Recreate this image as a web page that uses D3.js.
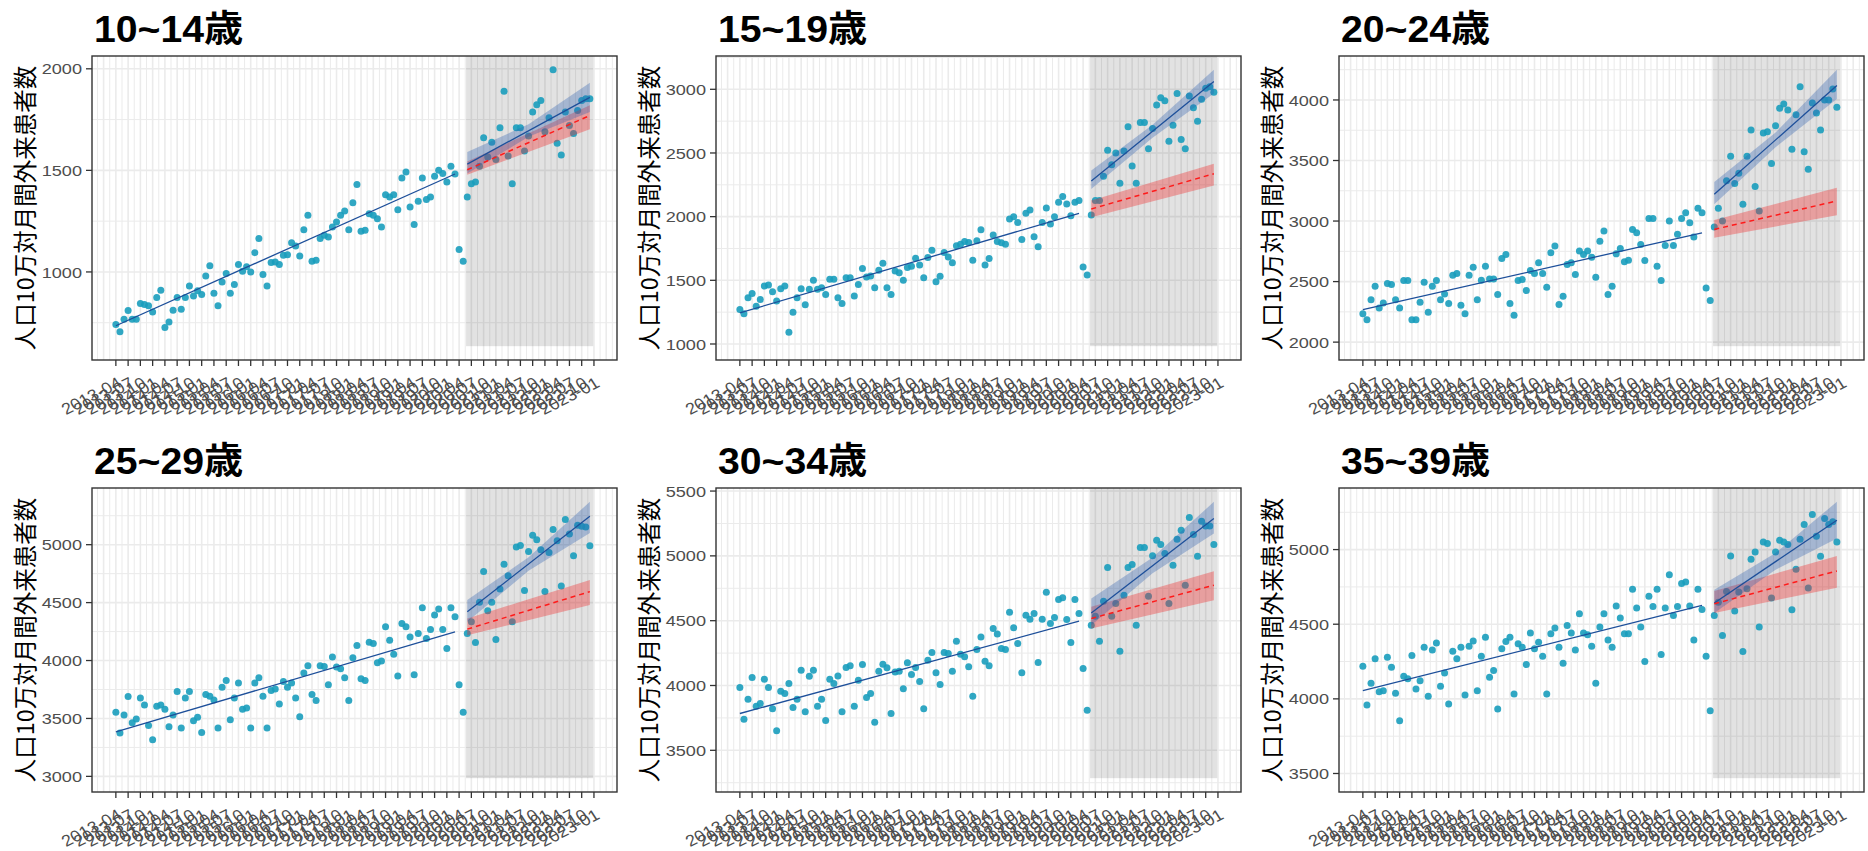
<!DOCTYPE html>
<html>
<head>
<meta charset="utf-8">
<script src="https://cdn.jsdelivr.net/npm/d3@7"></script>
<style>
  body { margin: 0; background: #fff; }
  svg { display: block; }
</style>
</head>
<body>
<svg id="chart" width="1868" height="851"></svg>
<script>
// panel titles
var ageGroups = ["10~14歳", "15~19歳", "20~24歳", "25~29歳", "30~34歳", "35~39歳"];
var yTitle = "人口10万対月間外来患者数";

// monthly series start at 2013-04, one value per month up to 2022-12
var firstMonth = new Date(2013, 3, 1);

var rate10to14 = [741,705,767,810,767,767,845,840,833,803,874,910,726,754,812,874,816,874,931,882,
  907,889,980,1030,895,833,951,992,895,938,1036,1003,1025,1000,1095,1164,987,931,1046,1049,
  1036,1082,1085,1144,1128,1079,1208,1279,1052,1057,1164,1180,1172,1221,1246,1279,1300,1208,1341,1430,
  1200,1205,1287,1279,1262,1221,1380,1369,1380,1306,1462,1492,1320,1234,1348,1462,1356,1369,1471,1500,
  1484,1443,1520,1482,1110,1052,1369,1434,1443,1520,1661,1566,1639,1554,1710,1889,1571,1434,1710,1710,
  1595,1669,1787,1823,1844,1690,1759,1995,1633,1576,1787,1721,1682,1795,1844,1852,1852];

var rate15to19 = [1271,1237,1363,1397,1297,1350,1455,1463,1410,1337,1434,1455,1092,1250,1363,1434,1308,1429,1500,1429,
  1442,1389,1508,1508,1363,1318,1521,1521,1376,1468,1592,1526,1534,1442,1579,1634,1442,1389,1573,1560,
  1500,1600,1610,1673,1621,1521,1679,1737,1489,1531,1718,1684,1637,1771,1784,1805,1797,1658,1810,1897,
  1621,1671,1855,1805,1795,1784,1981,2000,1955,1821,2026,2053,1842,1763,1955,2068,1942,2000,2113,2158,
  2100,2008,2113,2126,1605,1542,2013,2126,2126,2318,2521,2408,2500,2263,2516,2705,2397,2263,2739,2739,
  2534,2692,2876,2934,2911,2592,2718,2968,2605,2534,2947,2855,2750,2921,3008,3021,2976];

var rate20to24 = [2235,2185,2351,2462,2282,2323,2484,2475,2351,2282,2508,2508,2185,2185,2329,2495,2246,2462,2508,2351,
  2398,2318,2553,2567,2304,2235,2553,2619,2351,2511,2627,2522,2522,2393,2691,2724,2318,2221,2508,2517,
  2426,2591,2567,2655,2567,2453,2738,2793,2310,2379,2641,2655,2558,2752,2724,2752,2702,2536,2834,2917,
  2393,2462,2729,2774,2663,2677,2931,2903,2807,2674,3022,3022,2627,2508,2799,3000,2799,2890,3022,3069,
  2986,2868,3105,3069,2448,2343,2950,3105,3000,3332,3536,3310,3395,3138,3536,3751,3285,3083,3727,3738,
  3475,3787,3931,3967,3917,3594,3878,4110,3572,3428,3975,3892,3751,4000,4000,4091,3939];

var rate25to29 = [3553,3374,3530,3689,3463,3495,3677,3617,3440,3316,3605,3617,3579,3429,3530,3732,3417,3677,3732,3481,
  3510,3379,3706,3692,3660,3417,3770,3828,3489,3677,3805,3579,3591,3417,3805,3851,3692,3417,3741,3755,
  3625,3819,3770,3805,3677,3515,3892,3955,3706,3654,3955,3949,3790,4031,3944,3929,3851,3654,4025,4129,
  3842,3828,4158,4146,3981,3996,4291,4175,4054,3866,4320,4291,4204,3877,4233,4456,4190,4268,4392,4444,
  4268,4103,4456,4378,3790,3553,4233,4334,4155,4502,4768,4430,4502,4181,4618,4832,4731,4334,4980,4994,
  4604,4942,5081,5043,4957,4595,4933,5130,5035,4644,5217,5093,4904,5168,5159,5153,4991];

var rate30to34 = [3984,3740,3894,4062,3840,3861,4049,3984,3820,3650,3956,3938,4015,3830,3894,4118,3797,4072,4118,3840,
  3894,3730,4049,4015,4074,3797,4139,4152,3840,4041,4162,3907,3938,3717,4110,4164,4136,3784,4105,4110,
  3974,4175,4085,4139,4031,3820,4195,4254,4098,4008,4254,4247,4110,4342,4242,4221,4144,3918,4278,4375,
  4188,4152,4440,4398,4285,4278,4565,4445,4324,4098,4542,4512,4555,4177,4512,4720,4478,4524,4663,4676,
  4509,4332,4663,4555,4131,3810,4465,4535,4342,4650,4910,4535,4632,4265,4697,4910,4933,4465,5064,5064,
  4689,5000,5121,5087,5018,4632,4928,5129,5198,4774,5296,5165,4997,5267,5231,5231,5087];

var rate35to39 = [4219,3959,4104,4268,4048,4055,4279,4212,4037,3854,4151,4134,4290,4066,4122,4346,4017,4328,4375,4084,
  4174,3966,4319,4268,4346,4026,4353,4387,4055,4286,4413,4145,4190,3932,4335,4384,4413,4033,4369,4346,
  4230,4442,4335,4380,4286,4033,4436,4474,4346,4239,4492,4442,4328,4570,4442,4429,4353,4104,4481,4570,
  4395,4346,4622,4541,4436,4436,4734,4608,4481,4250,4687,4619,4734,4297,4608,4832,4559,4619,4772,4783,
  4622,4395,4734,4599,4286,3921,4559,4648,4425,4720,4957,4588,4716,4317,4738,4935,4984,4481,5051,5040,
  4675,4984,5063,5051,5034,4597,4868,5069,5168,4743,5235,5090,4955,5208,5168,5186,5051];

var rates = [rate10to14, rate15to19, rate20to24, rate25to29, rate30to34, rate35to39];

// pre-period trend (2013-04 .. 2020-03): value at first and last month
var preMonths = [0, 83];
var preTrend = [[735, 1482], [1244, 2026], [2268, 2903], [3385, 4248], [3784, 4496], [4055, 4626]];

// post-period (2020-06 .. 2022-12) fitted trend with band: [fit, low, high]
var postMonths = [86, 101, 116];
var postFit = [
  [[1531, 1484, 1590], [1695, 1665, 1727], [1859, 1787, 1931]],
  [[2279, 2218, 2363], [2670, 2620, 2722], [3061, 2968, 3153]],
  [[3221, 3138, 3323], [3670, 3610, 3732], [4119, 4008, 4249]],
  [[4421, 4334, 4522], [4833, 4775, 4892], [5246, 5101, 5370]],
  [[4560, 4465, 4671], [4924, 4865, 4987], [5288, 5172, 5417]],
  [[4642, 4575, 4731], [4920, 4865, 4977], [5197, 5074, 5320]]
];

// counterfactual (pre trend extended): [fit, low, high] at 2020-06 and 2022-12
var cfMonths = [86, 116];
var counterfactual = [
  [[1503, 1479, 1544], [1770, 1702, 1820]],
  [[2060, 1995, 2126], [2337, 2245, 2416]],
  [[2931, 2862, 3008], [3166, 3047, 3276]],
  [[4271, 4219, 4363], [4595, 4479, 4696]],
  [[4517, 4440, 4607], [4774, 4658, 4882]],
  [[4637, 4575, 4722], [4857, 4745, 4957]]
];

// shaded post period, in months from 2013-04
var shade = [85.7, 116.8];

var yTicks = [
  [1000, 1500, 2000],
  [1000, 1500, 2000, 2500, 3000],
  [2000, 2500, 3000, 3500, 4000],
  [3000, 3500, 4000, 4500, 5000],
  [3500, 4000, 4500, 5000, 5500],
  [3500, 4000, 4500, 5000]
];

// layout
var colLeft = [92, 716, 1339], rowTop = [56, 488];
var panelW = 525, panelH = 304;
var fontLatin = "'Liberation Sans', Arial, 'Noto Sans CJK JP', sans-serif";

var svg = d3.select("#chart");
svg.append("rect").attr("width", 1868).attr("height", 851).attr("fill", "#fff");

var fmtMonth = d3.timeFormat("%Y-%m");
var xTicks = d3.range(0, 118, 3);

ageGroups.forEach(function (title, p) {
  var left = colLeft[p % 3], top = rowTop[Math.floor(p / 3)];
  var vals = rates[p];
  var g = svg.append("g").attr("transform", "translate(" + left + "," + top + ")");

  // x: month index, ggplot style 5% expansion
  var xr = [0, shade[1]];
  var xPad = (xr[1] - xr[0]) * 0.05;
  var x = d3.scaleLinear().domain([xr[0] - xPad, xr[1] + xPad]).range([0, panelW]);

  // y: shade bottom is 0.9 * min, top is the highest point or band
  var shadeLow = 0.9 * d3.min(vals);
  var yHigh = d3.max(vals.concat(postFit[p].map(function (d) { return d[2]; })));
  var yPad = (yHigh - shadeLow) * 0.05;
  var y = d3.scaleLinear().domain([shadeLow - yPad, yHigh + yPad]).range([panelH, 0]);

  // grid
  var yt = yTicks[p], step = yt[1] - yt[0];
  var yMinor = d3.range(yt[0] - step / 2, yt[yt.length - 1] + step, step)
    .filter(function (v) { return v > y.domain()[0] && v < y.domain()[1]; });
  var xMinor = d3.range(-4.5, 123, 3).filter(function (v) { return v > x.domain()[0] && v < x.domain()[1]; });
  var xMajor = d3.range(-3, 123, 3).filter(function (v) { return v > x.domain()[0] && v < x.domain()[1]; });

  g.selectAll(".hmin").data(yMinor).enter().append("line")
    .attr("x1", 0).attr("x2", panelW).attr("y1", y).attr("y2", y)
    .attr("stroke", "#ebebeb").attr("stroke-width", 1);
  g.selectAll(".vmin").data(xMinor).enter().append("line")
    .attr("y1", 0).attr("y2", panelH).attr("x1", x).attr("x2", x)
    .attr("stroke", "#ebebeb").attr("stroke-width", 1);
  g.selectAll(".hmaj").data(yt).enter().append("line")
    .attr("x1", 0).attr("x2", panelW).attr("y1", y).attr("y2", y)
    .attr("stroke", "#ebebeb").attr("stroke-width", 1.6);
  g.selectAll(".vmaj").data(xMajor).enter().append("line")
    .attr("y1", 0).attr("y2", panelH).attr("x1", x).attr("x2", x)
    .attr("stroke", "#ebebeb").attr("stroke-width", 1.6);

  // shaded post period
  g.append("rect")
    .attr("x", x(shade[0])).attr("width", x(shade[1]) - x(shade[0]))
    .attr("y", 0).attr("height", y(shadeLow))
    .attr("fill", "#000").attr("fill-opacity", 0.115);

  // observed points
  g.selectAll(".pt").data(vals).enter().append("circle")
    .attr("cx", function (d, i) { return x(i); })
    .attr("cy", function (d) { return y(d); })
    .attr("r", 3.5)
    .attr("fill", "#1a9dbc").attr("fill-opacity", 0.9);

  // bands
  var band = d3.area()
    .x(function (d) { return x(d.m); })
    .y0(function (d) { return y(d.lo); })
    .y1(function (d) { return y(d.hi); });
  var cf = counterfactual[p].map(function (d, k) { return { m: cfMonths[k], fit: d[0], lo: d[1], hi: d[2] }; });
  var post = postFit[p].map(function (d, k) { return { m: postMonths[k], fit: d[0], lo: d[1], hi: d[2] }; });

  g.append("path").attr("d", band(cf)).attr("fill", "#f02a2a").attr("fill-opacity", 0.36);
  g.append("path").attr("d", band(post)).attr("fill", "#2a5fb0").attr("fill-opacity", 0.33);

  var line = d3.line().x(function (d) { return x(d.m); }).y(function (d) { return y(d.fit); });
  var pre = preTrend[p].map(function (v, k) { return { m: preMonths[k], fit: v }; });

  g.append("path").attr("d", line(pre)).attr("fill", "none")
    .attr("stroke", "#1d4f9a").attr("stroke-width", 1.3);
  g.append("path").attr("d", line([post[0], post[post.length - 1]])).attr("fill", "none")
    .attr("stroke", "#1d4f9a").attr("stroke-width", 1.3);
  g.append("path").attr("d", line(cf)).attr("fill", "none")
    .attr("stroke", "#ff1a1a").attr("stroke-width", 1.5).attr("stroke-dasharray", "5,4");

  // border
  g.append("rect").attr("width", panelW).attr("height", panelH)
    .attr("fill", "none").attr("stroke", "#333").attr("stroke-width", 1.4);

  // y axis
  var yAxis = g.append("g");
  yAxis.selectAll("line").data(yt).enter().append("line")
    .attr("x1", -6).attr("x2", 0).attr("y1", y).attr("y2", y)
    .attr("stroke", "#333").attr("stroke-width", 1.3);
  yAxis.selectAll("text").data(yt).enter().append("text")
    .attr("transform", function (d) { return "translate(-10," + y(d) + ") scale(1.17,1)"; })
    .attr("dy", "0.36em")
    .attr("text-anchor", "end")
    .attr("font-family", fontLatin).attr("font-size", 15.5).attr("fill", "#4d4d4d")
    .text(function (d) { return d; });

  // x axis, labels tilted and crowded as in the source
  var xAxis = g.append("g").attr("transform", "translate(0," + panelH + ")");
  xAxis.selectAll("line").data(xTicks).enter().append("line")
    .attr("x1", x).attr("x2", x).attr("y1", 0).attr("y2", 6)
    .attr("stroke", "#333").attr("stroke-width", 1.3);
  xAxis.selectAll("text").data(xTicks).enter().append("text")
    .attr("transform", function (d) { return "translate(" + (x(d) + 7) + ",26) scale(1.12,1) rotate(-30)"; })
    .attr("text-anchor", "end")
    .attr("font-family", fontLatin).attr("font-size", 16).attr("fill", "#4d4d4d")
    .text(function (d) { return fmtMonth(d3.timeMonth.offset(firstMonth, d)); });

  // titles
  g.append("text")
    .attr("transform", "translate(2,-14) scale(1.06,1)")
    .attr("font-family", fontLatin).attr("font-size", 37).attr("font-weight", "bold")
    .attr("fill", "#000")
    .text(title);
  g.append("text")
    .attr("transform", "translate(-66," + (panelH / 2) + ") rotate(-90)")
    .attr("dy", "0.35em")
    .attr("text-anchor", "middle")
    .attr("font-family", "'Noto Sans CJK JP', 'Liberation Sans', sans-serif").attr("font-size", 23.5)
    .attr("fill", "#000")
    .text(yTitle);
});
</script>
</body>
</html>
